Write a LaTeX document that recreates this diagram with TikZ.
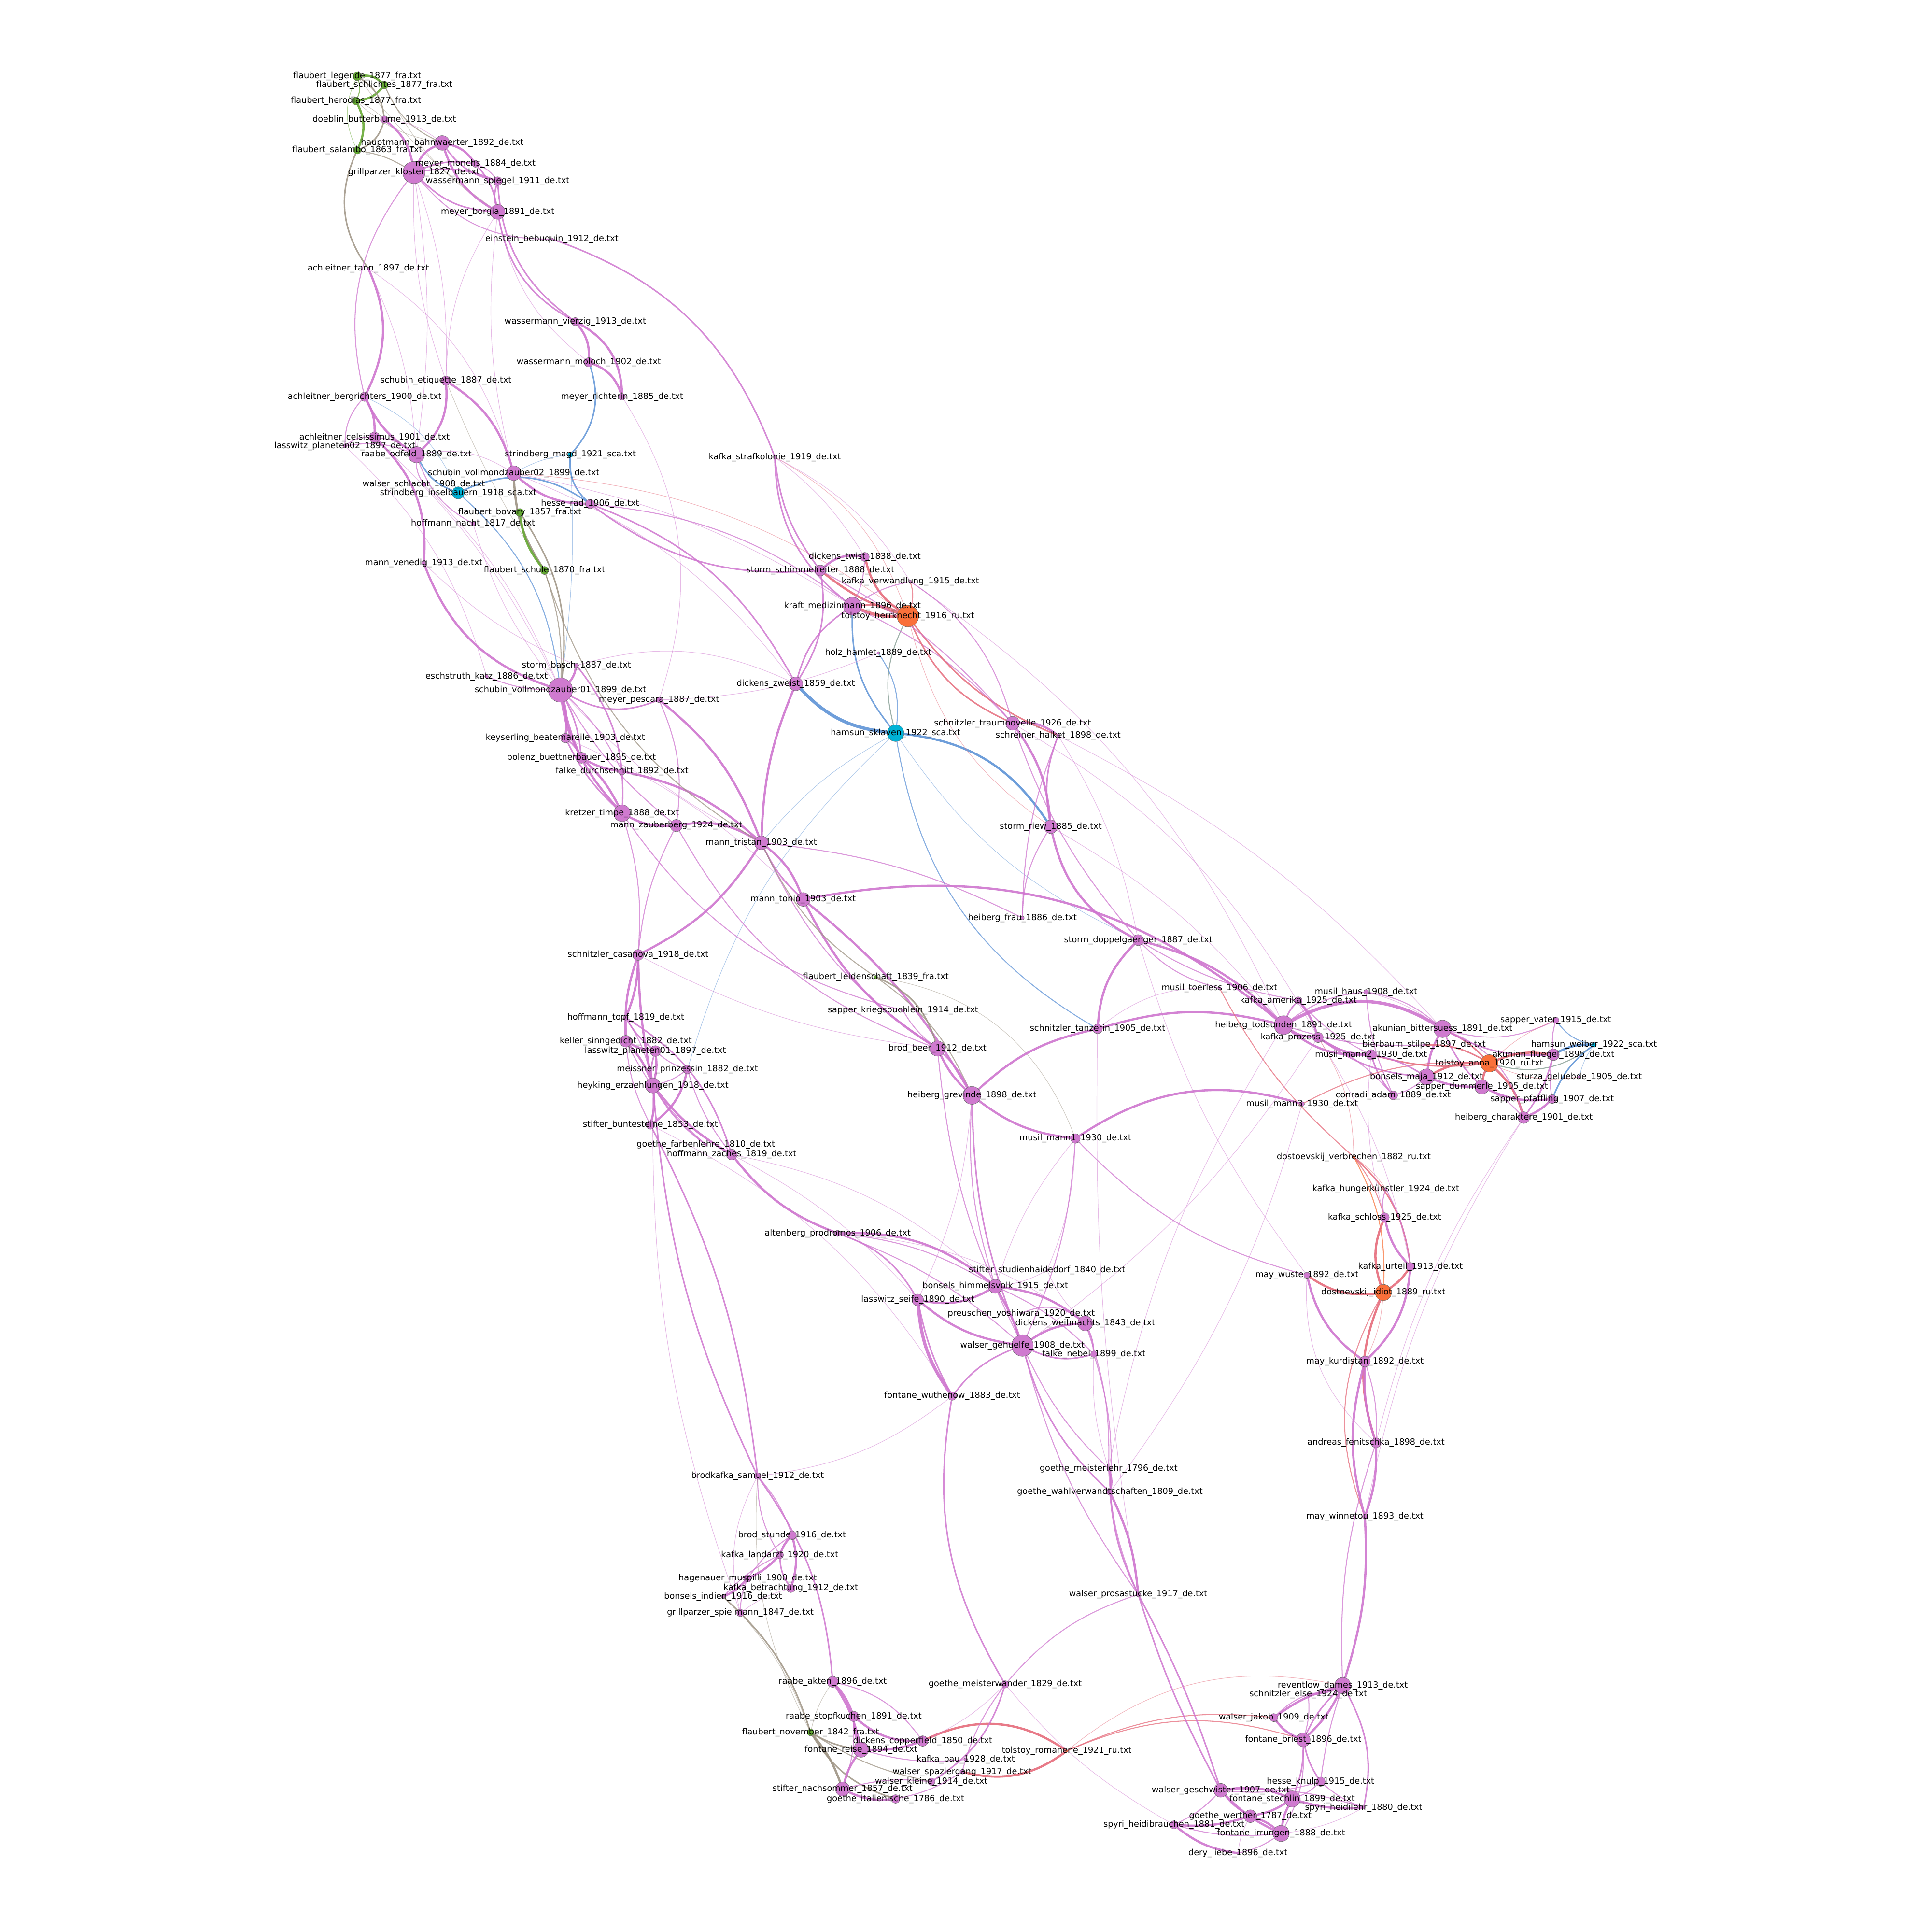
\documentclass[tikz,border=0pt]{standalone}
\usepackage{fontspec}
\setmainfont{DejaVu Sans}
\usetikzlibrary{backgrounds}
% node fills
\definecolor{nP}{RGB}{207,122,207}
\definecolor{nO}{RGB}{250,112,58}
\definecolor{nC}{RGB}{0,178,214}
\definecolor{nG}{RGB}{100,168,52}
% edge colours (mix of the two end colours)
\definecolor{eP}{RGB}{207,118,207}
\definecolor{eR}{RGB}{230,108,124}
\definecolor{eB}{RGB}{95,148,215}
\definecolor{eY}{RGB}{158,148,132}
\definecolor{eG}{RGB}{105,170,55}
\definecolor{eO}{RGB}{248,115,60}
\definecolor{eK}{RGB}{125,150,140}
\tikzset{
  kP/.style={draw=eP}, kR/.style={draw=eR}, kB/.style={draw=eB},
  kY/.style={draw=eY}, kG/.style={draw=eG}, kO/.style={draw=eO}, kK/.style={draw=eK},
  wA/.style={line width=.45pt,draw opacity=.5},
  wB/.style={line width=.8pt,draw opacity=.75},
  wC/.style={line width=1.2pt,draw opacity=.85},
  wD/.style={line width=1.8pt,draw opacity=.9},
  wE/.style={line width=2.6pt,draw opacity=.9},
  dot/.style={circle,draw=black!60,line width=.25pt,inner sep=0pt,outer sep=0pt},
  lbl/.style={inner sep=0pt,font=\fontsize{6.9}{7}\selectfont,text=black},
}
\newcommand\edg[4]{\draw[#1] (#2) to[bend left=#4] (#3);}
% id, colour, radius, x, y, text
\newcommand\nodelist{%
\ndx{fleg}{G}{3.5}{290}{62}{flaubert\_legende\_1877\_fra.txt}
\ndx{fsch}{G}{3.2}{312}{69}{flaubert\_schlichtes\_1877\_fra.txt}
\ndx{fher}{G}{3.2}{289}{82}{flaubert\_herodias\_1877\_fra.txt}
\ndx{doeb}{P}{3.0}{312}{97}{doeblin\_butterblume\_1913\_de.txt}
\ndx{haup}{P}{6.0}{359}{116}{hauptmann\_bahnwaerter\_1892\_de.txt}
\ndx{fsal}{G}{3.0}{290}{122}{flaubert\_salambo\_1863\_fra.txt}
\ndx{mmon}{P}{2.8}{386}{133}{meyer\_monchs\_1884\_de.txt}
\ndx{gkl}{P}{9.0}{336}{140}{grillparzer\_kloster\_1827\_de.txt}
\ndx{wspi}{P}{3.6}{404}{147}{wassermann\_spiegel\_1911\_de.txt}
\ndx{mbor}{P}{6.0}{404}{172}{meyer\_borgia\_1891\_de.txt}
\ndx{ein}{P}{1.0}{448}{194}{einstein\_bebuquin\_1912\_de.txt}
\ndx{atan}{P}{1.2}{299}{218}{achleitner\_tann\_1897\_de.txt}
\ndx{wvie}{P}{3.3}{467}{261}{wassermann\_vierzig\_1913\_de.txt}
\ndx{wmol}{P}{3.8}{478}{294}{wassermann\_moloch\_1902\_de.txt}
\ndx{seti}{P}{3.8}{362}{309}{schubin\_etiquette\_1887\_de.txt}
\ndx{mric}{P}{2.7}{505}{322}{meyer\_richterin\_1885\_de.txt}
\ndx{aber}{P}{3.8}{296}{322}{achleitner\_bergrichters\_1900\_de.txt}
\ndx{acel}{P}{4.4}{304}{355}{achleitner\_celsissimus\_1901\_de.txt}
\ndx{lpl2}{P}{1.5}{280}{362}{lasswitz\_planeten02\_1897\_de.txt}
\ndx{rodf}{P}{6.6}{338}{369}{raabe\_odfeld\_1889\_de.txt}
\ndx{smag}{C}{2.2}{463}{369}{strindberg\_magd\_1921\_sca.txt}
\ndx{svz2}{P}{6.0}{417}{384}{schubin\_vollmondzauber02\_1899\_de.txt}
\ndx{wsch}{P}{2.0}{344}{393}{walser\_schlacht\_1908\_de.txt}
\ndx{sins}{C}{5.0}{372}{400}{strindberg\_inselbauern\_1918\_sca.txt}
\ndx{hrad}{P}{3.8}{479}{409}{hesse\_rad\_1906\_de.txt}
\ndx{fbov}{G}{3.3}{422}{416}{flaubert\_bovary\_1857\_fra.txt}
\ndx{hnac}{P}{1.8}{384}{425}{hoffmann\_nacht\_1817\_de.txt}
\ndx{mven}{P}{1.8}{344}{457}{mann\_venedig\_1913\_de.txt}
\ndx{fsle}{G}{3.3}{442}{463}{flaubert\_schule\_1870\_fra.txt}
\ndx{kstr}{P}{1.2}{629}{371}{kafka\_strafkolonie\_1919\_de.txt}
\ndx{dtwi}{P}{3.7}{702}{452}{dickens\_twist\_1838\_de.txt}
\ndx{ssch}{P}{4.4}{666}{463}{storm\_schimmelreiter\_1888\_de.txt}
\ndx{kver}{P}{1.2}{739}{472}{kafka\_verwandlung\_1915\_de.txt}
\ndx{kraf}{P}{7.3}{692}{492}{kraft\_medizinmann\_1896\_de.txt}
\ndx{tolh}{O}{8.8}{737}{500}{tolstoy\_herrknecht\_1916\_ru.txt}
\ndx{holz}{P}{1.2}{713}{530}{holz\_hamlet\_1889\_de.txt}
\ndx{sbas}{P}{1.8}{468}{540}{storm\_basch\_1887\_de.txt}
\ndx{esch}{P}{1.5}{395}{549}{eschstruth\_katz\_1886\_de.txt}
\ndx{svz1}{P}{9.9}{455}{560}{schubin\_vollmondzauber01\_1899\_de.txt}
\ndx{dzwe}{P}{5.6}{646}{555}{dickens\_zweist\_1859\_de.txt}
\ndx{mpes}{P}{2.3}{535}{568}{meyer\_pescara\_1887\_de.txt}
\ndx{stra}{P}{5.6}{822}{587}{schnitzler\_traumnovelle\_1926\_de.txt}
\ndx{hsk}{C}{6.8}{727}{595}{hamsun\_sklaven\_1922\_sca.txt}
\ndx{shal}{P}{1.5}{859}{597}{schreiner\_halket\_1898\_de.txt}
\ndx{keys}{P}{3.9}{459}{599}{keyserling\_beatemareile\_1903\_de.txt}
\ndx{polz}{P}{4.5}{472}{615}{polenz\_buettnerbauer\_1895\_de.txt}
\ndx{falk}{P}{2.8}{505}{626}{falke\_durchschnitt\_1892\_de.txt}
\ndx{kret}{P}{6.8}{505}{660}{kretzer\_timpe\_1888\_de.txt}
\ndx{mzau}{P}{5.0}{549}{670}{mann\_zauberberg\_1924\_de.txt}
\ndx{mtri}{P}{5.6}{618}{684}{mann\_tristan\_1903\_de.txt}
\ndx{sriew}{P}{5.5}{853}{671}{storm\_riew\_1885\_de.txt}
\ndx{mton}{P}{5.6}{652}{730}{mann\_tonio\_1903\_de.txt}
\ndx{hfrau}{P}{1.5}{830}{745}{heiberg\_frau\_1886\_de.txt}
\ndx{sdop}{P}{4.5}{924}{763}{storm\_doppelgaenger\_1887\_de.txt}
\ndx{scas}{P}{4.5}{518}{775}{schnitzler\_casanova\_1918\_de.txt}
\ndx{flei}{G}{1.5}{711}{793}{flaubert\_leidenschaft\_1839\_fra.txt}
\ndx{mtoe}{P}{1.2}{990}{802}{musil\_toerless\_1906\_de.txt}
\ndx{mhaus}{P}{2.0}{1109}{805}{musil\_haus\_1908\_de.txt}
\ndx{kame}{P}{3.0}{1054}{812}{kafka\_amerika\_1925\_de.txt}
\ndx{skrieg}{P}{1.5}{733}{820}{sapper\_kriegsbuchlein\_1914\_de.txt}
\ndx{htopf}{P}{2.0}{508}{826}{hoffmann\_topf\_1819\_de.txt}
\ndx{stanz}{P}{3.9}{891}{835}{schnitzler\_tanzerin\_1905\_de.txt}
\ndx{htod}{P}{7.7}{1042}{832}{heiberg\_todsunden\_1891\_de.txt}
\ndx{akbit}{P}{7.1}{1171}{835}{akunian\_bittersuess\_1891\_de.txt}
\ndx{svat}{P}{2.5}{1263}{828}{sapper\_vater\_1915\_de.txt}
\ndx{kpro}{P}{4.2}{1070}{842}{kafka\_prozess\_1925\_de.txt}
\ndx{kell}{P}{4.8}{508}{845}{keller\_sinngedicht\_1882\_de.txt}
\ndx{bier}{P}{1.2}{1156}{848}{bierbaum\_stilpe\_1897\_de.txt}
\ndx{hweib}{C}{2.0}{1294}{848}{hamsun\_weiber\_1922\_sca.txt}
\ndx{lpl1}{P}{4.4}{532}{853}{lasswitz\_planeten01\_1897\_de.txt}
\ndx{bbeer}{P}{6.2}{761}{851}{brod\_beer\_1912\_de.txt}
\ndx{mm2}{P}{4.2}{1113}{856}{musil\_mann2\_1930\_de.txt}
\ndx{akflu}{P}{4.8}{1261}{856}{akunian\_fluegel\_1895\_de.txt}
\ndx{tolan}{O}{7.1}{1209}{863}{tolstoy\_anna\_1920\_ru.txt}
\ndx{mpri}{P}{3.5}{558}{868}{meissner\_prinzessin\_1882\_de.txt}
\ndx{bmaja}{P}{6.5}{1158}{874}{bonsels\_maja\_1912\_de.txt}
\ndx{stur}{P}{1.2}{1282}{874}{sturza\_geluebde\_1905\_de.txt}
\ndx{heyk}{P}{6.1}{530}{881}{heyking\_erzaehlungen\_1918\_de.txt}
\ndx{sdum}{P}{5.9}{1203}{882}{sapper\_dummerle\_1905\_de.txt}
\ndx{hgrev}{P}{7.3}{789}{889}{heiberg\_grevinde\_1898\_de.txt}
\ndx{conr}{P}{3.6}{1131}{889}{conradi\_adam\_1889\_de.txt}
\ndx{mm3}{P}{2.0}{1057}{896}{musil\_mann3\_1930\_de.txt}
\ndx{spfaf}{P}{3.6}{1260}{892}{sapper\_pfaffling\_1907\_de.txt}
\ndx{hchar}{P}{4.8}{1237}{907}{heiberg\_charaktere\_1901\_de.txt}
\ndx{stbu}{P}{3.5}{528}{913}{stifter\_buntesteine\_1853\_de.txt}
\ndx{mman1}{P}{3.9}{873}{924}{musil\_mann1\_1930\_de.txt}
\ndx{gfarb}{P}{1.2}{573}{929}{goethe\_farbenlehre\_1810\_de.txt}
\ndx{hzach}{P}{4.4}{594}{937}{hoffmann\_zaches\_1819\_de.txt}
\ndx{dverb}{O}{1.2}{1099}{939}{dostoevskij\_verbrechen\_1882\_ru.txt}
\ndx{khung}{P}{1.2}{1125}{965}{kafka\_hungerkünstler\_1924\_de.txt}
\ndx{kschl}{P}{3.8}{1124}{988}{kafka\_schloss\_1925\_de.txt}
\ndx{alt}{P}{2.5}{680}{1001}{altenberg\_prodromos\_1906\_de.txt}
\ndx{stud}{P}{1.0}{850}{1031}{stifter\_studienhaidedorf\_1840\_de.txt}
\ndx{kurt}{P}{3.4}{1145}{1028}{kafka\_urteil\_1913\_de.txt}
\ndx{bhim}{P}{5.7}{808}{1044}{bonsels\_himmelsvolk\_1915\_de.txt}
\ndx{mwus}{P}{2.5}{1061}{1035}{may\_wuste\_1892\_de.txt}
\ndx{idiot}{O}{6.6}{1123}{1049}{dostoevskij\_idiot\_1889\_ru.txt}
\ndx{lseif}{P}{4.8}{745}{1055}{lasswitz\_seife\_1890\_de.txt}
\ndx{preu}{P}{1.0}{829}{1066}{preuschen\_yoshiwara\_1920\_de.txt}
\ndx{dweih}{P}{6.1}{881}{1074}{dickens\_weihnachts\_1843\_de.txt}
\ndx{wgeh}{P}{8.8}{830}{1092}{walser\_gehuelfe\_1908\_de.txt}
\ndx{fneb}{P}{2.6}{888}{1099}{falke\_nebel\_1899\_de.txt}
\ndx{mkurd}{P}{4.4}{1108}{1105}{may\_kurdistan\_1892\_de.txt}
\ndx{fwut}{P}{3.5}{773}{1133}{fontane\_wuthenow\_1883\_de.txt}
\ndx{afen}{P}{4.0}{1117}{1171}{andreas\_fenitschka\_1898\_de.txt}
\ndx{gml}{P}{1.5}{900}{1192}{goethe\_meisterlehr\_1796\_de.txt}
\ndx{bksam}{P}{2.7}{615}{1198}{brodkafka\_samuel\_1912\_de.txt}
\ndx{gwahl}{P}{2.5}{901}{1211}{goethe\_wahlverwandtschaften\_1809\_de.txt}
\ndx{mwin}{P}{2.0}{1108}{1231}{may\_winnetou\_1893\_de.txt}
\ndx{bstun}{P}{3.5}{643}{1246}{brod\_stunde\_1916\_de.txt}
\ndx{klan}{P}{3.0}{633}{1262}{kafka\_landarzt\_1920\_de.txt}
\ndx{hag}{P}{3.0}{607}{1281}{hagenauer\_muspilli\_1900\_de.txt}
\ndx{kbet}{P}{3.5}{642}{1289}{kafka\_betrachtung\_1912\_de.txt}
\ndx{bind}{P}{1.5}{587}{1296}{bonsels\_indien\_1916\_de.txt}
\ndx{wpros}{P}{2.0}{924}{1294}{walser\_prosastucke\_1917\_de.txt}
\ndx{gspiel}{P}{3.0}{601}{1309}{grillparzer\_spielmann\_1847\_de.txt}
\ndx{gmwan}{P}{3.0}{816}{1367}{goethe\_meisterwander\_1829\_de.txt}
\ndx{rakt}{P}{4.5}{676}{1365}{raabe\_akten\_1896\_de.txt}
\ndx{rev}{P}{6.6}{1090}{1368}{reventlow\_dames\_1913\_de.txt}
\ndx{selse}{P}{1.2}{1062}{1375}{schnitzler\_else\_1924\_de.txt}
\ndx{wjak}{P}{3.3}{1034}{1394}{walser\_jakob\_1909\_de.txt}
\ndx{rstop}{P}{4.2}{693}{1393}{raabe\_stopfkuchen\_1891\_de.txt}
\ndx{fnov}{G}{2.8}{658}{1406}{flaubert\_november\_1842\_fra.txt}
\ndx{dcop}{P}{4.3}{749}{1413}{dickens\_copperfield\_1850\_de.txt}
\ndx{frei}{P}{6.2}{699}{1420}{fontane\_reise\_1894\_de.txt}
\ndx{fbri}{P}{5.6}{1058}{1412}{fontane\_briest\_1896\_de.txt}
\ndx{trom}{O}{1.0}{866}{1421}{tolstoy\_romanene\_1921\_ru.txt}
\ndx{kbau}{P}{1.5}{784}{1428}{kafka\_bau\_1928\_de.txt}
\ndx{wspaz}{P}{1.8}{781}{1438}{walser\_spaziergang\_1917\_de.txt}
\ndx{wklei}{P}{3.0}{756}{1446}{walser\_kleine\_1914\_de.txt}
\ndx{hkn}{P}{3.8}{1072}{1446}{hesse\_knulp\_1915\_de.txt}
\ndx{snach}{P}{5.8}{684}{1452}{stifter\_nachsommer\_1857\_de.txt}
\ndx{wges}{P}{5.6}{991}{1453}{walser\_geschwister\_1907\_de.txt}
\ndx{gital}{P}{3.5}{727}{1460}{goethe\_italienische\_1786\_de.txt}
\ndx{fste}{P}{6.6}{1049}{1460}{fontane\_stechlin\_1899\_de.txt}
\ndx{spyl}{P}{1.2}{1107}{1467}{spyri\_heidilehr\_1880\_de.txt}
\ndx{gwer}{P}{5.2}{1015}{1474}{goethe\_werther\_1787\_de.txt}
\ndx{spyb}{P}{3.3}{953}{1481}{spyri\_heidibrauchen\_1881\_de.txt}
\ndx{firr}{P}{6.6}{1040}{1488}{fontane\_irrungen\_1888\_de.txt}
\ndx{dery}{P}{1.2}{1005}{1504}{dery\_liebe\_1896\_de.txt}
}
\newcommand\ndx[6]{\node[dot,fill=n#2,minimum size=#3*2pt] (#1) at (#4,#5) {};}
\begin{document}
\begin{tikzpicture}[x=1pt,y=-1pt]
\useasboundingbox (0,0) rectangle (1568,1568);
% circles
\nodelist
\begin{scope}[on background layer]
\fill[white] (0,0) rectangle (1568,1568);
% --- flaubert / grillparzer group
\edg{kG,wD}{fleg}{fsch}{25}
\edg{kG,wD}{fher}{fsch}{-20}
\edg{kG,wB}{fleg}{fher}{20}
\edg{kG,wD}{fher}{fsal}{25}
\edg{kG,wA}{fleg}{fsal}{-25}
\edg{kY,wC}{fleg}{doeb}{25}
\edg{kY,wC}{doeb}{fsal}{25}
\edg{kY,wB}{fsch}{haup}{-20}
\edg{kY,wB}{fsal}{gkl}{10}
\edg{kY,wC}{fsal}{atan}{-30}
\edg{kY,wA}{fher}{haup}{-15}
\edg{kY,wA}{fsch}{mbor}{-15}
\edg{kY,wA}{fleg}{mbor}{-8}
\edg{kY,wA}{fher}{doeb}{10}
\edg{kP,wD}{doeb}{gkl}{20}
\edg{kP,wA}{doeb}{haup}{15}
\edg{kP,wD}{haup}{gkl}{-20}
\edg{kP,wD}{haup}{mmon}{20}
\edg{kP,wC}{haup}{wspi}{-20}
\edg{kP,wD}{haup}{mbor}{-20}
\edg{kP,wC}{gkl}{mmon}{15}
\edg{kP,wC}{gkl}{wspi}{15}
\edg{kP,wC}{gkl}{mbor}{-20}
\edg{kP,wC}{mmon}{mbor}{15}
\edg{kP,wC}{wspi}{mbor}{-15}
\edg{kP,wB}{mmon}{wspi}{15}
\edg{kP,wB}{gkl}{ein}{-25}
\edg{kP,wC}{ein}{kstr}{25}
\edg{kP,wC}{kstr}{kraf}{-25}
\edg{kP,wC}{kstr}{ssch}{-15}
\edg{kP,wC}{mbor}{wvie}{-25}
\edg{kP,wC}{wspi}{wvie}{-25}
\edg{kP,wA}{mbor}{wmol}{-20}
\edg{kP,wB}{gkl}{aber}{-25}
\edg{kP,wA}{gkl}{seti}{-10}
\edg{kP,wA}{gkl}{seti}{10}
\edg{kP,wA}{gkl}{rodf}{8}
\edg{kP,wD}{atan}{aber}{25}
\edg{kP,wA}{atan}{svz2}{20}
\edg{kP,wA}{mbor}{seti}{-15}
\edg{kP,wA}{mbor}{svz2}{-10}
\edg{kP,wD}{wvie}{wmol}{20}
\edg{kP,wD}{wvie}{mric}{30}
\edg{kP,wD}{wmol}{mric}{25}
\edg{kB,wC}{wmol}{smag}{30}
\edg{kB,wC}{smag}{hrad}{-25}
\edg{kB,wC}{sins}{hrad}{30}
\edg{kB,wC}{rodf}{sins}{-20}
\edg{kB,wB}{sins}{svz1}{20}
\edg{kB,wA}{smag}{svz1}{5}
\edg{kB,wA}{smag}{svz2}{-10}
\edg{kP,wD}{seti}{svz2}{20}
\edg{kP,wD}{seti}{rodf}{25}
\edg{kY,wA}{seti}{fsle}{-5}
\edg{kP,wD}{aber}{acel}{15}
\edg{kP,wB}{aber}{lpl2}{-20}
\edg{kP,wD}{aber}{rodf}{-15}
\edg{kP,wB}{acel}{rodf}{15}
\edg{kP,wB}{lpl2}{acel}{20}
\edg{kP,wB}{lpl2}{rodf}{15}
\edg{kB,wA}{aber}{sins}{20}
\edg{kP,wD}{acel}{mven}{25}
\edg{kP,wD}{mven}{svz1}{-25}
\edg{kP,wB}{rodf}{hnac}{-20}
\edg{kP,wB}{rodf}{wsch}{-15}
\edg{kP,wA}{rodf}{svz2}{20}
\edg{kY,wD}{svz2}{fsle}{-15}
\edg{kG,wD}{fbov}{fsle}{-15}
\edg{kY,wC}{fbov}{svz1}{20}
\edg{kY,wB}{fsle}{svz1}{10}
\edg{kP,wD}{svz2}{hrad}{-20}
\edg{kP,wC}{hrad}{ssch}{-20}
\edg{kP,wC}{hrad}{dzwe}{20}
\edg{kP,wB}{hrad}{kraf}{15}
\edg{kR,wA}{svz2}{tolh}{15}
\edg{kP,wA}{mric}{mpes}{25}
% --- tolstoy / hamsun group
\edg{kR,wA}{kstr}{tolh}{20}
\edg{kP,wA}{kstr}{dtwi}{10}
\edg{kP,wA}{kstr}{kver}{15}
\edg{kP,wD}{ssch}{dtwi}{25}
\edg{kR,wD}{ssch}{tolh}{-10}
\edg{kR,wD}{dtwi}{tolh}{-20}
\edg{kR,wE}{kraf}{tolh}{-12}
\edg{kR,wC}{kraf}{tolh}{15}
\edg{kR,wB}{kver}{tolh}{15}
\edg{kP,wB}{kraf}{dtwi}{-10}
\edg{kP,wB}{kraf}{kver}{10}
\edg{kP,wC}{dzwe}{kraf}{20}
\edg{kP,wC}{dzwe}{ssch}{-20}
\edg{kB,wE}{dzwe}{hsk}{-20}
\edg{kB,wC}{kraf}{hsk}{-20}
\edg{kK,wB}{tolh}{hsk}{-20}
\edg{kB,wB}{holz}{hsk}{20}
\edg{kB,wD}{hsk}{sriew}{25}
\edg{kB,wA}{hsk}{mtri}{-10}
\edg{kB,wA}{hsk}{mpri}{-15}
\edg{kB,wB}{hsk}{stanz}{-25}
\edg{kB,wA}{hsk}{sdop}{-15}
\edg{kP,wD}{stra}{shal}{20}
\edg{kP,wB}{kraf}{stra}{10}
\edg{kR,wC}{tolh}{stra}{-20}
\edg{kR,wC}{tolh}{shal}{-15}
\edg{kR,wA}{tolh}{sriew}{-20}
\edg{kP,wB}{kver}{stra}{20}
\edg{kP,wB}{ssch}{stra}{10}
\edg{kP,wD}{stra}{sriew}{15}
\edg{kP,wC}{shal}{sriew}{-15}
\edg{kP,wB}{stra}{sdop}{-10}
\edg{kP,wD}{sriew}{sdop}{-25}
\edg{kP,wA}{shal}{sdop}{10}
\edg{kP,wB}{shal}{hfrau}{-10}
\edg{kP,wB}{sriew}{hfrau}{-15}
\edg{kP,wD}{mton}{htod}{25}
\edg{kP,wB}{mtri}{hfrau}{10}
% --- schubin / mann group
\edg{kP,wB}{svz1}{esch}{10}
\edg{kP,wD}{svz1}{sbas}{-15}
\edg{kP,wD}{svz1}{keys}{10}
\edg{kP,wD}{svz1}{polz}{-10}
\edg{kP,wC}{svz1}{polz}{10}
\edg{kP,wB}{svz1}{falk}{10}
\edg{kP,wD}{svz1}{kret}{-15}
\edg{kP,wB}{svz1}{mzau}{-10}
\edg{kP,wC}{svz1}{mpes}{-25}
\edg{kP,wC}{sbas}{kret}{20}
\edg{kP,wD}{mpes}{mtri}{15}
\edg{kP,wD}{falk}{mtri}{15}
\edg{kP,wD}{kret}{mzau}{-15}
\edg{kP,wD}{mzau}{mtri}{20}
\edg{kP,wD}{polz}{kret}{10}
\edg{kP,wC}{keys}{kret}{-10}
\edg{kP,wC}{keys}{polz}{10}
\edg{kP,wD}{polz}{falk}{-10}
\edg{kP,wB}{kret}{scas}{10}
\edg{kP,wB}{mzau}{scas}{-10}
\edg{kP,wD}{mtri}{scas}{15}
\edg{kP,wD}{mtri}{mton}{15}
\edg{kP,wC}{mtri}{mton}{-10}
\edg{kP,wD}{dzwe}{mtri}{-10}
\edg{kP,wA}{sbas}{dzwe}{20}
\edg{kP,wA}{svz1}{mtri}{-10}
\edg{kP,wD}{mton}{bbeer}{-15}
\edg{kP,wD}{mton}{hgrev}{10}
\edg{kP,wB}{mtri}{bbeer}{-15}
\edg{kP,wB}{mpes}{mzau}{15}
\edg{kP,wB}{kret}{skrieg}{-20}
\edg{kP,wB}{mzau}{bbeer}{-20}
\edg{kY,wB}{mtri}{flei}{-15}
\edg{kY,wB}{fsle}{mtri}{-20}
\edg{kY,wC}{flei}{bbeer}{25}
\edg{kY,wB}{flei}{hgrev}{15}
\edg{kY,wA}{flei}{mman1}{30}
% --- casanova / heyking group
\edg{kP,wD}{scas}{htopf}{10}
\edg{kP,wD}{scas}{kell}{-10}
\edg{kP,wD}{scas}{heyk}{-5}
\edg{kP,wB}{htopf}{kell}{5}
\edg{kP,wC}{htopf}{lpl1}{-10}
\edg{kP,wB}{htopf}{heyk}{10}
\edg{kP,wC}{htopf}{hzach}{20}
\edg{kP,wD}{kell}{lpl1}{-10}
\edg{kP,wD}{kell}{heyk}{10}
\edg{kP,wB}{kell}{stbu}{-10}
\edg{kP,wB}{kell}{gfarb}{-10}
\edg{kP,wD}{lpl1}{heyk}{10}
\edg{kP,wC}{lpl1}{heyk}{-12}
\edg{kP,wB}{lpl1}{mpri}{-10}
\edg{kP,wB}{mpri}{heyk}{10}
\edg{kP,wD}{mpri}{stbu}{20}
\edg{kP,wB}{mpri}{hzach}{-10}
\edg{kP,wD}{heyk}{stbu}{10}
\edg{kP,wC}{heyk}{gfarb}{-10}
\edg{kP,wD}{heyk}{hzach}{-10}
\edg{kP,wC}{heyk}{bksam}{-10}
\edg{kP,wC}{stbu}{bksam}{10}
% --- walser_gehuelfe group
\edg{kP,wD}{hzach}{alt}{-15}
\edg{kP,wD}{alt}{bhim}{20}
\edg{kP,wB}{alt}{bhim}{12}
\edg{kP,wC}{alt}{lseif}{20}
\edg{kP,wB}{alt}{wgeh}{10}
\edg{kP,wA}{alt}{dweih}{15}
\edg{kP,wD}{lseif}{bhim}{-20}
\edg{kP,wD}{lseif}{wgeh}{-15}
\edg{kP,wE}{lseif}{fwut}{-15}
\edg{kP,wC}{lseif}{fwut}{-8}
\edg{kP,wD}{bhim}{wgeh}{5}
\edg{kP,wD}{bhim}{dweih}{15}
\edg{kP,wB}{bhim}{fneb}{10}
\edg{kP,wD}{wgeh}{dweih}{15}
\edg{kP,wC}{wgeh}{fneb}{-20}
\edg{kP,wC}{wgeh}{fwut}{-15}
\edg{kP,wC}{dweih}{fneb}{10}
\edg{kP,wB}{preu}{dweih}{30}
\edg{kP,wB}{wgeh}{gml}{-10}
\edg{kP,wC}{wgeh}{gwahl}{-15}
\edg{kP,wB}{wgeh}{wpros}{-10}
\edg{kP,wC}{fwut}{gmwan}{-20}
\edg{kP,wA}{fwut}{bksam}{15}
\edg{kP,wC}{hgrev}{wgeh}{-10}
\edg{kP,wD}{hgrev}{bbeer}{10}
\edg{kP,wC}{hgrev}{bbeer}{-10}
\edg{kP,wD}{hgrev}{mman1}{-15}
\edg{kP,wD}{hgrev}{stanz}{15}
\edg{kP,wB}{bbeer}{skrieg}{10}
\edg{kP,wB}{hgrev}{bhim}{-10}
\edg{kP,wA}{hgrev}{lseif}{10}
% --- right group
\edg{kP,wD}{stanz}{sdop}{20}
\edg{kP,wD}{stanz}{htod}{15}
\edg{kP,wA}{stanz}{mtoe}{20}
\edg{kP,wD}{sdop}{htod}{15}
\edg{kP,wB}{sdop}{mtoe}{-15}
\edg{kP,wB}{sdop}{kame}{-10}
\edg{kR,wB}{mtoe}{dverb}{-10}
\edg{kP,wC}{htod}{kame}{10}
\edg{kP,wD}{htod}{kpro}{-15}
\edg{kP,wD}{htod}{mm2}{-20}
\edg{kP,wE}{htod}{akbit}{30}
\edg{kP,wB}{htod}{mhaus}{15}
\edg{kP,wB}{htod}{bier}{-10}
\edg{kP,wD}{kame}{kpro}{10}
\edg{kP,wB}{kame}{mm2}{-10}
\edg{kP,wD}{kpro}{mm2}{-15}
\edg{kP,wC}{kpro}{bmaja}{-15}
\edg{kP,wD}{akbit}{bmaja}{-10}
\edg{kR,wC}{akbit}{tolan}{10}
\edg{kP,wC}{akbit}{sdum}{-10}
\edg{kP,wB}{akbit}{mhaus}{-15}
\edg{kP,wC}{akbit}{akflu}{-15}
\edg{kP,wB}{akbit}{svat}{-20}
\edg{kR,wC}{bier}{tolan}{15}
\edg{kR,wC}{mm2}{tolan}{-10}
\edg{kR,wD}{tolan}{akflu}{15}
\edg{kR,wD}{tolan}{sdum}{-10}
\edg{kR,wD}{tolan}{bmaja}{-15}
\edg{kR,wD}{tolan}{hchar}{15}
\edg{kK,wB}{tolan}{hweib}{-25}
\edg{kR,wA}{tolan}{svat}{10}
\edg{kR,wA}{tolan}{stur}{-15}
\edg{kB,wD}{akflu}{hweib}{15}
\edg{kB,wB}{svat}{hweib}{-20}
\edg{kB,wC}{spfaf}{hweib}{15}
\edg{kB,wA}{stur}{hweib}{10}
\edg{kP,wB}{akflu}{svat}{10}
\edg{kP,wB}{akflu}{spfaf}{-10}
\edg{kP,wC}{akflu}{hchar}{10}
\edg{kP,wD}{sdum}{spfaf}{-15}
\edg{kP,wB}{sdum}{hchar}{10}
\edg{kP,wD}{bmaja}{sdum}{-10}
\edg{kP,wD}{spfaf}{hchar}{10}
\edg{kP,wC}{conr}{mm2}{10}
\edg{kP,wB}{conr}{bmaja}{-10}
\edg{kP,wB}{conr}{mhaus}{10}
\edg{kP,wB}{conr}{kpro}{-10}
\edg{kR,wB}{mm3}{tolan}{15}
\edg{kP,wD}{mman1}{mm3}{25}
\edg{kP,wB}{hchar}{akbit}{-25}
\edg{kP,wA}{mhaus}{akbit}{10}
\edg{kP,wC}{mm2}{bmaja}{10}
% --- dostoevskij / may group
\edg{kR,wA}{dverb}{khung}{10}
\edg{kR,wB}{dverb}{kschl}{10}
\edg{kO,wB}{dverb}{idiot}{15}
\edg{kR,wC}{dverb}{kurt}{20}
\edg{kP,wB}{khung}{kschl}{-15}
\edg{kP,wB}{khung}{kurt}{10}
\edg{kR,wD}{kschl}{idiot}{-20}
\edg{kP,wD}{kschl}{kurt}{-15}
\edg{kR,wD}{kurt}{idiot}{10}
\edg{kP,wD}{kurt}{mkurd}{20}
\edg{kR,wD}{mwus}{idiot}{-20}
\edg{kP,wD}{mwus}{mkurd}{-20}
\edg{kP,wA}{mwus}{afen}{-25}
\edg{kR,wA}{idiot}{mkurd}{10}
\edg{kR,wD}{idiot}{afen}{-20}
\edg{kR,wB}{idiot}{mwin}{-25}
\edg{kP,wD}{mkurd}{afen}{-10}
\edg{kP,wB}{mkurd}{afen}{10}
\edg{kP,wD}{mkurd}{mwin}{-15}
\edg{kP,wD}{afen}{mwin}{10}
\edg{kP,wB}{afen}{rev}{-10}
\edg{kP,wD}{mwin}{rev}{10}
\edg{kP,wB}{mwus}{mman1}{15}
\edg{kP,wA}{kpro}{kurt}{10}
\edg{kP,wA}{hchar}{afen}{-10}
\edg{kP,wA}{mm2}{kschl}{-10}
\edg{kR,wA}{kpro}{dverb}{15}
% --- brod / raabe group
\edg{kP,wB}{bksam}{bstun}{10}
\edg{kP,wB}{bksam}{klan}{-15}
\edg{kP,wC}{bksam}{rakt}{15}
\edg{kY,wA}{bksam}{fnov}{-15}
\edg{kP,wA}{bksam}{gspiel}{-20}
\edg{kP,wD}{bstun}{klan}{-10}
\edg{kP,wD}{bstun}{kbet}{15}
\edg{kP,wB}{bstun}{hag}{-10}
\edg{kP,wD}{klan}{hag}{10}
\edg{kP,wC}{klan}{kbet}{-15}
\edg{kP,wB}{klan}{bind}{-10}
\edg{kP,wD}{hag}{bind}{10}
\edg{kP,wB}{hag}{gspiel}{-10}
\edg{kY,wC}{bind}{fnov}{15}
\edg{kY,wA}{gspiel}{fnov}{10}
\edg{kP,wA}{kbet}{gspiel}{-10}
\edg{kP,wD}{rakt}{rstop}{10}
\edg{kP,wD}{rakt}{frei}{10}
\edg{kP,wB}{rakt}{dcop}{20}
\edg{kY,wA}{rakt}{fnov}{-10}
\edg{kP,wD}{rstop}{dcop}{-20}
\edg{kP,wD}{rstop}{frei}{-10}
\edg{kP,wB}{rstop}{snach}{10}
\edg{kY,wC}{fnov}{frei}{-10}
\edg{kY,wD}{fnov}{snach}{10}
\edg{kY,wC}{fnov}{gital}{-20}
\edg{kY,wB}{fnov}{wklei}{-10}
\edg{kP,wD}{frei}{snach}{-10}
\edg{kP,wD}{frei}{dcop}{-10}
\edg{kP,wB}{frei}{kbau}{-10}
\edg{kR,wD}{dcop}{trom}{30}
\edg{kR,wD}{trom}{wspaz}{25}
\edg{kP,wA}{dcop}{gmwan}{-10}
\edg{kP,wD}{snach}{gital}{-15}
\edg{kP,wB}{snach}{wklei}{10}
\edg{kP,wC}{wklei}{gmwan}{-20}
\edg{kP,wB}{wspaz}{gmwan}{10}
\edg{kP,wB}{gital}{wspaz}{-10}
\edg{kP,wB}{gmwan}{wpros}{15}
\edg{kR,wB}{trom}{fbri}{20}
\edg{kR,wB}{trom}{wjak}{15}
\edg{kR,wA}{trom}{rev}{25}
\edg{kP,wA}{gmwan}{spyb}{-10}
% --- fontane group
\edg{kP,wD}{rev}{selse}{10}
\edg{kP,wD}{rev}{wjak}{-10}
\edg{kP,wD}{rev}{fbri}{10}
\edg{kP,wC}{rev}{fbri}{-10}
\edg{kP,wB}{rev}{hkn}{-5}
\edg{kP,wC}{rev}{spyl}{20}
\edg{kP,wB}{selse}{wjak}{-10}
\edg{kP,wB}{selse}{fbri}{10}
\edg{kP,wD}{wjak}{fbri}{-15}
\edg{kP,wC}{fbri}{hkn}{-10}
\edg{kP,wC}{fbri}{fste}{10}
\edg{kP,wB}{fbri}{firr}{15}
\edg{kP,wB}{hkn}{fste}{10}
\edg{kP,wB}{hkn}{spyl}{-10}
\edg{kP,wB}{hkn}{wges}{10}
\edg{kP,wD}{wges}{fste}{15}
\edg{kP,wC}{wges}{gwer}{-10}
\edg{kP,wD}{wges}{firr}{-10}
\edg{kP,wB}{wges}{spyb}{10}
\edg{kP,wB}{wges}{spyl}{10}
\edg{kP,wD}{fste}{gwer}{10}
\edg{kP,wD}{fste}{firr}{-10}
\edg{kP,wD}{fste}{spyl}{-10}
\edg{kP,wD}{gwer}{firr}{10}
\edg{kP,wD}{gwer}{spyb}{10}
\edg{kP,wA}{gwer}{dery}{-10}
\edg{kP,wB}{spyb}{firr}{-10}
\edg{kP,wD}{spyb}{dery}{-15}
\edg{kP,wB}{firr}{dery}{10}
\edg{kP,wA}{firr}{spyl}{-10}
\edg{kP,wC}{wges}{wpros}{-5}
\edg{kP,wC}{wges}{wpros}{5}
% --- goethe group and long links
\edg{kP,wD}{gml}{gwahl}{15}
\edg{kP,wD}{gwahl}{wpros}{10}
\edg{kP,wC}{gwahl}{wpros}{-10}
\edg{kP,wB}{gml}{wpros}{-10}
\edg{kP,wB}{dweih}{gml}{10}
\edg{kP,wB}{fneb}{gwahl}{10}
\edg{kP,wA}{fneb}{gml}{-10}
\edg{kP,wA}{stanz}{wpros}{-5}
\edg{kP,wA}{kver}{htod}{15}
\edg{kP,wA}{shal}{akbit}{10}
\edg{kP,wA}{sriew}{htod}{10}
\edg{kP,wA}{stra}{kpro}{15}
\edg{kP,wA}{lpl2}{esch}{15}
\edg{kP,wA}{acel}{svz1}{10}
\edg{kP,wA}{atan}{rodf}{10}
\edg{kP,wA}{hnac}{svz1}{-10}
\edg{kP,wA}{wsch}{svz1}{10}
\edg{kP,wA}{mven}{sbas}{-10}
\edg{kP,wA}{svz2}{dzwe}{15}
\edg{kP,wA}{svz2}{kraf}{10}
\edg{kP,wB}{bbeer}{wgeh}{-10}
\edg{kP,wB}{mman1}{wgeh}{10}
\edg{kP,wA}{mman1}{bhim}{-10}
\edg{kP,wA}{mman1}{stud}{10}
\edg{kP,wA}{kpro}{wgeh}{10}
\edg{kP,wA}{htod}{gml}{-10}
\edg{kP,wA}{hchar}{mwin}{-10}
\edg{kP,wA}{mm3}{gwahl}{10}
\edg{kP,wA}{stud}{bhim}{10}
\edg{kP,wA}{stud}{dweih}{-10}
\edg{kP,wA}{mpes}{holz}{-10}
\edg{kP,wA}{sdop}{mwus}{-10}
\edg{kP,wA}{hzach}{lseif}{10}
\edg{kP,wA}{hzach}{bhim}{15}
\edg{kP,wA}{stbu}{fwut}{15}
\edg{kP,wA}{heyk}{gspiel}{-10}
\edg{kP,wA}{scas}{bbeer}{-10}
\edg{kP,wA}{keys}{mton}{10}
\end{scope}
% labels on top
\renewcommand\ndx[6]{\node[lbl] (#1-t) at (#4,#5) {#6};}
\nodelist
\end{tikzpicture}
\end{document}
